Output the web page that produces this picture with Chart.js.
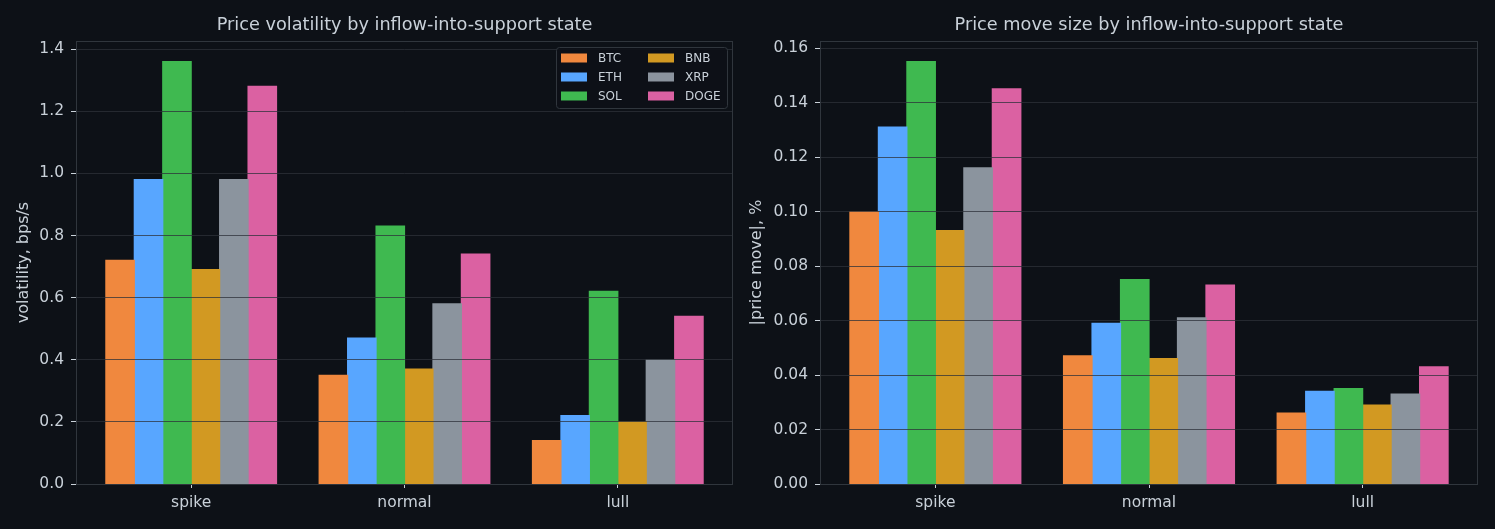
<!DOCTYPE html>
<html>
<head>
<meta charset="utf-8">
<script src="https://cdn.jsdelivr.net/npm/chart.js@4.4.1/dist/chart.umd.min.js"></script>
<style>
  html, body { margin: 0; padding: 0; background: #0d1117; }
  #wrap { position: relative; width: 1495px; height: 529px; }
  canvas { position: absolute; top: 0; }
</style>
</head>
<body>
<div id="wrap">
  <canvas id="volChart" width="747" height="529" style="left:0"></canvas>
  <canvas id="moveChart" width="748" height="529" style="left:747px"></canvas>
</div>
<script>
// categories and series
const states = ["spike", "normal", "lull"];
const coins = ["BTC", "ETH", "SOL", "BNB", "XRP", "DOGE"];
const coinColors = ["#f0883e", "#58a6ff", "#3fb950", "#d29922", "#8b949e", "#db61a2"];

// volatility, bps/s  (spike, normal, lull)
const volBTC = [0.72, 0.35, 0.14];
const volETH = [0.98, 0.47, 0.22];
const volSOL = [1.36, 0.83, 0.62];
const volBNB = [0.69, 0.37, 0.20];
const volXRP = [0.98, 0.58, 0.40];
const volDOGE = [1.28, 0.74, 0.54];

// |price move|, %  (spike, normal, lull)
const moveBTC = [0.100, 0.047, 0.026];
const moveETH = [0.131, 0.059, 0.034];
const moveSOL = [0.155, 0.075, 0.035];
const moveBNB = [0.093, 0.046, 0.029];
const moveXRP = [0.116, 0.061, 0.033];
const moveDOGE = [0.145, 0.073, 0.043];

const TEXT = "#c9d1d9";
const EDGE = "#30363d";
const FONT = "'DejaVu Sans', sans-serif";

// frame around plot area
const framePlugin = {
  id: "frame",
  afterDraw(chart) {
    const { ctx, chartArea: a } = chart;
    ctx.save();
    ctx.strokeStyle = EDGE;
    ctx.lineWidth = 1;
    ctx.strokeRect(Math.round(a.left) + 0.5, Math.round(a.top) + 0.5,
      Math.round(a.right - a.left) - 1, Math.round(a.bottom - a.top));
    ctx.restore();
  }
};

// two-column legend, top right inside the plot
const legendPlugin = {
  id: "gridLegend",
  afterDraw(chart, args, opts) {
    if (!opts.show) return;
    const { ctx, chartArea: a } = chart;
    const sets = chart.data.datasets;
    const w = 171, h = 61;
    const x0 = a.right - 6 - w, y0 = a.top + 6;
    ctx.save();
    ctx.fillStyle = "rgba(13,17,23,0.9)";
    ctx.strokeStyle = EDGE;
    ctx.lineWidth = 1;
    ctx.beginPath();
    ctx.roundRect(x0 + 0.5, y0 + 0.5, w, h, 3);
    ctx.fill();
    ctx.stroke();
    ctx.font = "12px " + FONT;
    ctx.textBaseline = "middle";
    sets.forEach((ds, i) => {
      const col = Math.floor(i / 3), row = i % 3;
      const sx = x0 + 5 + col * 87;
      const sy = y0 + 11 + row * 19;
      ctx.fillStyle = ds.backgroundColor;
      ctx.fillRect(sx, sy - 4.5, 26, 9);
      ctx.fillStyle = TEXT;
      ctx.fillText(ds.label, sx + 37, sy + 0.5);
    });
    ctx.restore();
  }
};

function makeChart(id, title, yLabel, series, yMax, yStep, decimals, yWidth, yTitlePad, padRight, showLegend) {
  const datasets = coins.map((c, k) => ({
    label: c,
    data: states.map((s, i) => ({ x: i, y: series[k][i] })),
    backgroundColor: coinColors[k],
    borderWidth: 0,
    inflateAmount: 0.6,
    categoryPercentage: 0.8,
    barPercentage: 1.0
  }));

  return new Chart(document.getElementById(id), {
    type: "bar",
    data: { datasets },
    plugins: [framePlugin, legendPlugin],
    options: {
      responsive: false,
      animation: false,
      layout: { padding: { left: 0, right: padRight, top: 0, bottom: 0 } },
      plugins: {
        legend: { display: false },
        tooltip: { enabled: false },
        gridLegend: { show: showLegend },
        title: {
          display: true,
          text: title,
          fullSize: false,
          color: TEXT,
          font: { family: FONT, size: 17.7, weight: "normal", lineHeight: 1.2 },
          padding: { top: 14.4, bottom: 5.36 }
        }
      },
      scales: {
        x: {
          type: "linear",
          min: -0.54,
          max: 2.54,
          offset: false,
          afterBuildTicks: (axis) => { axis.ticks = states.map((s, i) => ({ value: i })); },
          afterFit: (scale) => { scale.height = 45; },
          grid: { display: true, offset: false, drawOnChartArea: false, tickLength: 4, tickColor: TEXT },
          border: { display: false },
          ticks: {
            color: TEXT,
            padding: 6,
            font: { family: FONT, size: 15.5 },
            callback: (v) => states[v]
          }
        },
        y: {
          min: 0,
          max: yMax,
          afterFit: (scale) => { scale.width = yWidth; },
          grid: { z: 1, color: "rgba(45,50,57,0.75)", lineWidth: 1, tickLength: 5, tickColor: TEXT },
          border: { display: false },
          ticks: {
            stepSize: yStep,
            includeBounds: false,
            color: TEXT,
            padding: 7,
            font: { family: FONT, size: 15.5 },
            callback: (v) => v.toFixed(decimals)
          },
          title: {
            display: true,
            text: yLabel,
            color: TEXT,
            font: { family: FONT, size: 16, lineHeight: 1.2 },
            padding: { top: yTitlePad, bottom: 0 }
          }
        }
      }
    }
  });
}

makeChart("volChart", "Price volatility by inflow-into-support state", "volatility, bps/s",
  [volBTC, volETH, volSOL, volBNB, volXRP, volDOGE], 1.426, 0.2, 1, 76, 14.4, 14, true);
makeChart("moveChart", "Price move size by inflow-into-support state", "|price move|, %",
  [moveBTC, moveETH, moveSOL, moveBNB, moveXRP, moveDOGE], 0.1626, 0.02, 2, 73, 0.4, 17, false);
</script>
</body>
</html>
